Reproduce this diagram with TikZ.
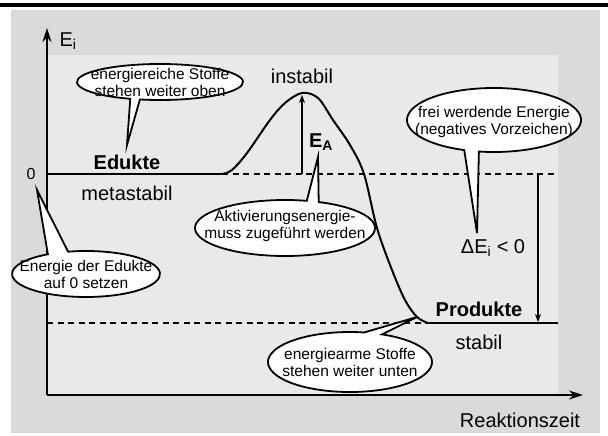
\documentclass[tikz,border=0pt]{standalone}
\usepackage{fontspec}
\setmainfont{Liberation Sans}
\usepackage{tikz}
\usetikzlibrary{arrows.meta}

\definecolor{aussengrau}{gray}{0.855}
\definecolor{innengrau}{gray}{0.915}

% Sprechblase: Mitte, rx, ry, Luecke von, Luecke bis, Spitze
\newcommand{\sprechblase}[6]{%
  \draw[blase] (#6) -- ([shift={({#2*cos(#5)},{#3*sin(#5)})}]#1)
    arc[start angle=#5, end angle=#4+360, x radius=#2, y radius=#3] -- cycle;}

\begin{document}
\begin{tikzpicture}[x=1pt, y=-1pt,
  achse/.style={line width=1.6pt, -{Stealth[length=14pt, width=9pt]}},
  kurve/.style={line width=2pt},
  strich/.style={line width=1.1pt, dash pattern=on 6pt off 4.5pt},
  pfeil/.style={line width=1.2pt, -{Stealth[length=8pt, width=6pt]}},
  blase/.style={draw, fill=white, line width=1.8pt},
  blasentext/.style={align=center, inner sep=0pt, font=\fontsize{15.5}{17}\selectfont},
  gross/.style={inner sep=0pt, font=\fontsize{20}{24}\selectfont},
  fett/.style={gross, font=\fontsize{20}{24}\selectfont\bfseries}]

\useasboundingbox (0,0) rectangle (608,436);
\fill[aussengrau] (11,10) rectangle (600,433);
\fill[innengrau] (47,55) rectangle (558,395);
\fill (0,3) rectangle (608,7);

\coordinate (ursprung) at (47,395);
\coordinate (yspitze) at (47,28);
\coordinate (xspitze) at (583,395);
\coordinate (eduktende) at (222,174);
\coordinate (nullrechts) at (558,174);
\coordinate (nulllinks) at (47,174);
\coordinate (produktanfang) at (428,323);
\coordinate (produktende) at (558,323);
\coordinate (produktlinks) at (47,323);
\coordinate (gipfel) at (302,95);
\coordinate (gipfelfuss) at (302,174);
\coordinate (deltaoben) at (538,174);
\coordinate (deltaunten) at (538,322);

% Niveaus
\draw[strich] (eduktende) -- (nullrechts);
\draw[strich] (produktlinks) -- (produktanfang);

% Achsen
\draw[achse] (ursprung) -- (yspitze);
\draw[achse] (ursprung) -- (xspitze);

% Sprechblasen
\coordinate (obenM) at (160,82);
\coordinate (obenZ) at (127,145);
\sprechblase{obenM}{83}{18}{104}{111}{obenZ}
\node[blasentext] (oben) at (obenM) {energiereiche Stoffe\\stehen weiter oben};

\coordinate (freiM) at (494,120);
\coordinate (freiZ) at (477,233);
\sprechblase{freiM}{87}{32}{100}{110}{freiZ}
\node[blasentext] (frei) at (494,122) {frei werdende Energie\\(negatives Vorzeichen)};

\coordinate (aktivM) at (285,228);
\coordinate (aktivZ) at (318,157);
\sprechblase{aktivM}{90}{28}{284}{292}{aktivZ}
\node[blasentext] (aktiv) at (285,226) {Aktivierungsenergie-\\muss zugeführt werden};

\coordinate (nullM) at (86,274);
\coordinate (nullZ) at (37,190);
\sprechblase{nullM}{74}{23}{239}{256}{nullZ}
\node[blasentext] (null) at (nullM) {Energie der Edukte\\auf 0 setzen};

\coordinate (untenM) at (350,362);
\coordinate (untenZ) at (417,317);
\sprechblase{untenM}{82}{30}{280}{293}{untenZ}
\node[blasentext] (unten) at (untenM) {energiearme Stoffe\\stehen weiter unten};

% Energieverlauf
\draw[kurve] (nulllinks) -- (eduktende);
\draw[kurve] plot[smooth, tension=0.55] coordinates {(222,174) (232,170) (247,153)
  (270,120) (285,103) (302,93) (318,98) (333,120) (350,145) (364,174) (377,228)
  (392,270) (405,300) (417,317) (428,323)};
\draw[kurve] (produktanfang) -- (produktende);

\draw[pfeil] (gipfelfuss) -- (gipfel);
\draw[pfeil] (deltaoben) -- (deltaunten);

% Beschriftung
\node[gross] (ei) at (68,41) {E\textsubscript{i}};
\node[inner sep=0pt, font=\fontsize{16}{18}\selectfont] (nulltext) at (31,174) {0};
\node[fett] (edukte) at (127,162) {Edukte};
\node[gross] (meta) at (127,193) {metastabil};
\node[gross] (instabil) at (302,76) {instabil};
\node[fett] (ea) at (321,142) {E\textsubscript{A}};
\node[gross] (delta) at (493,248) {ΔE\textsubscript{i} < 0};
\node[fett] (produkte) at (479,309) {Produkte};
\node[gross] (stabil) at (479,342) {stabil};
\node[gross] (zeit) at (520,420) {Reaktionszeit};
\end{tikzpicture}
\end{document}
